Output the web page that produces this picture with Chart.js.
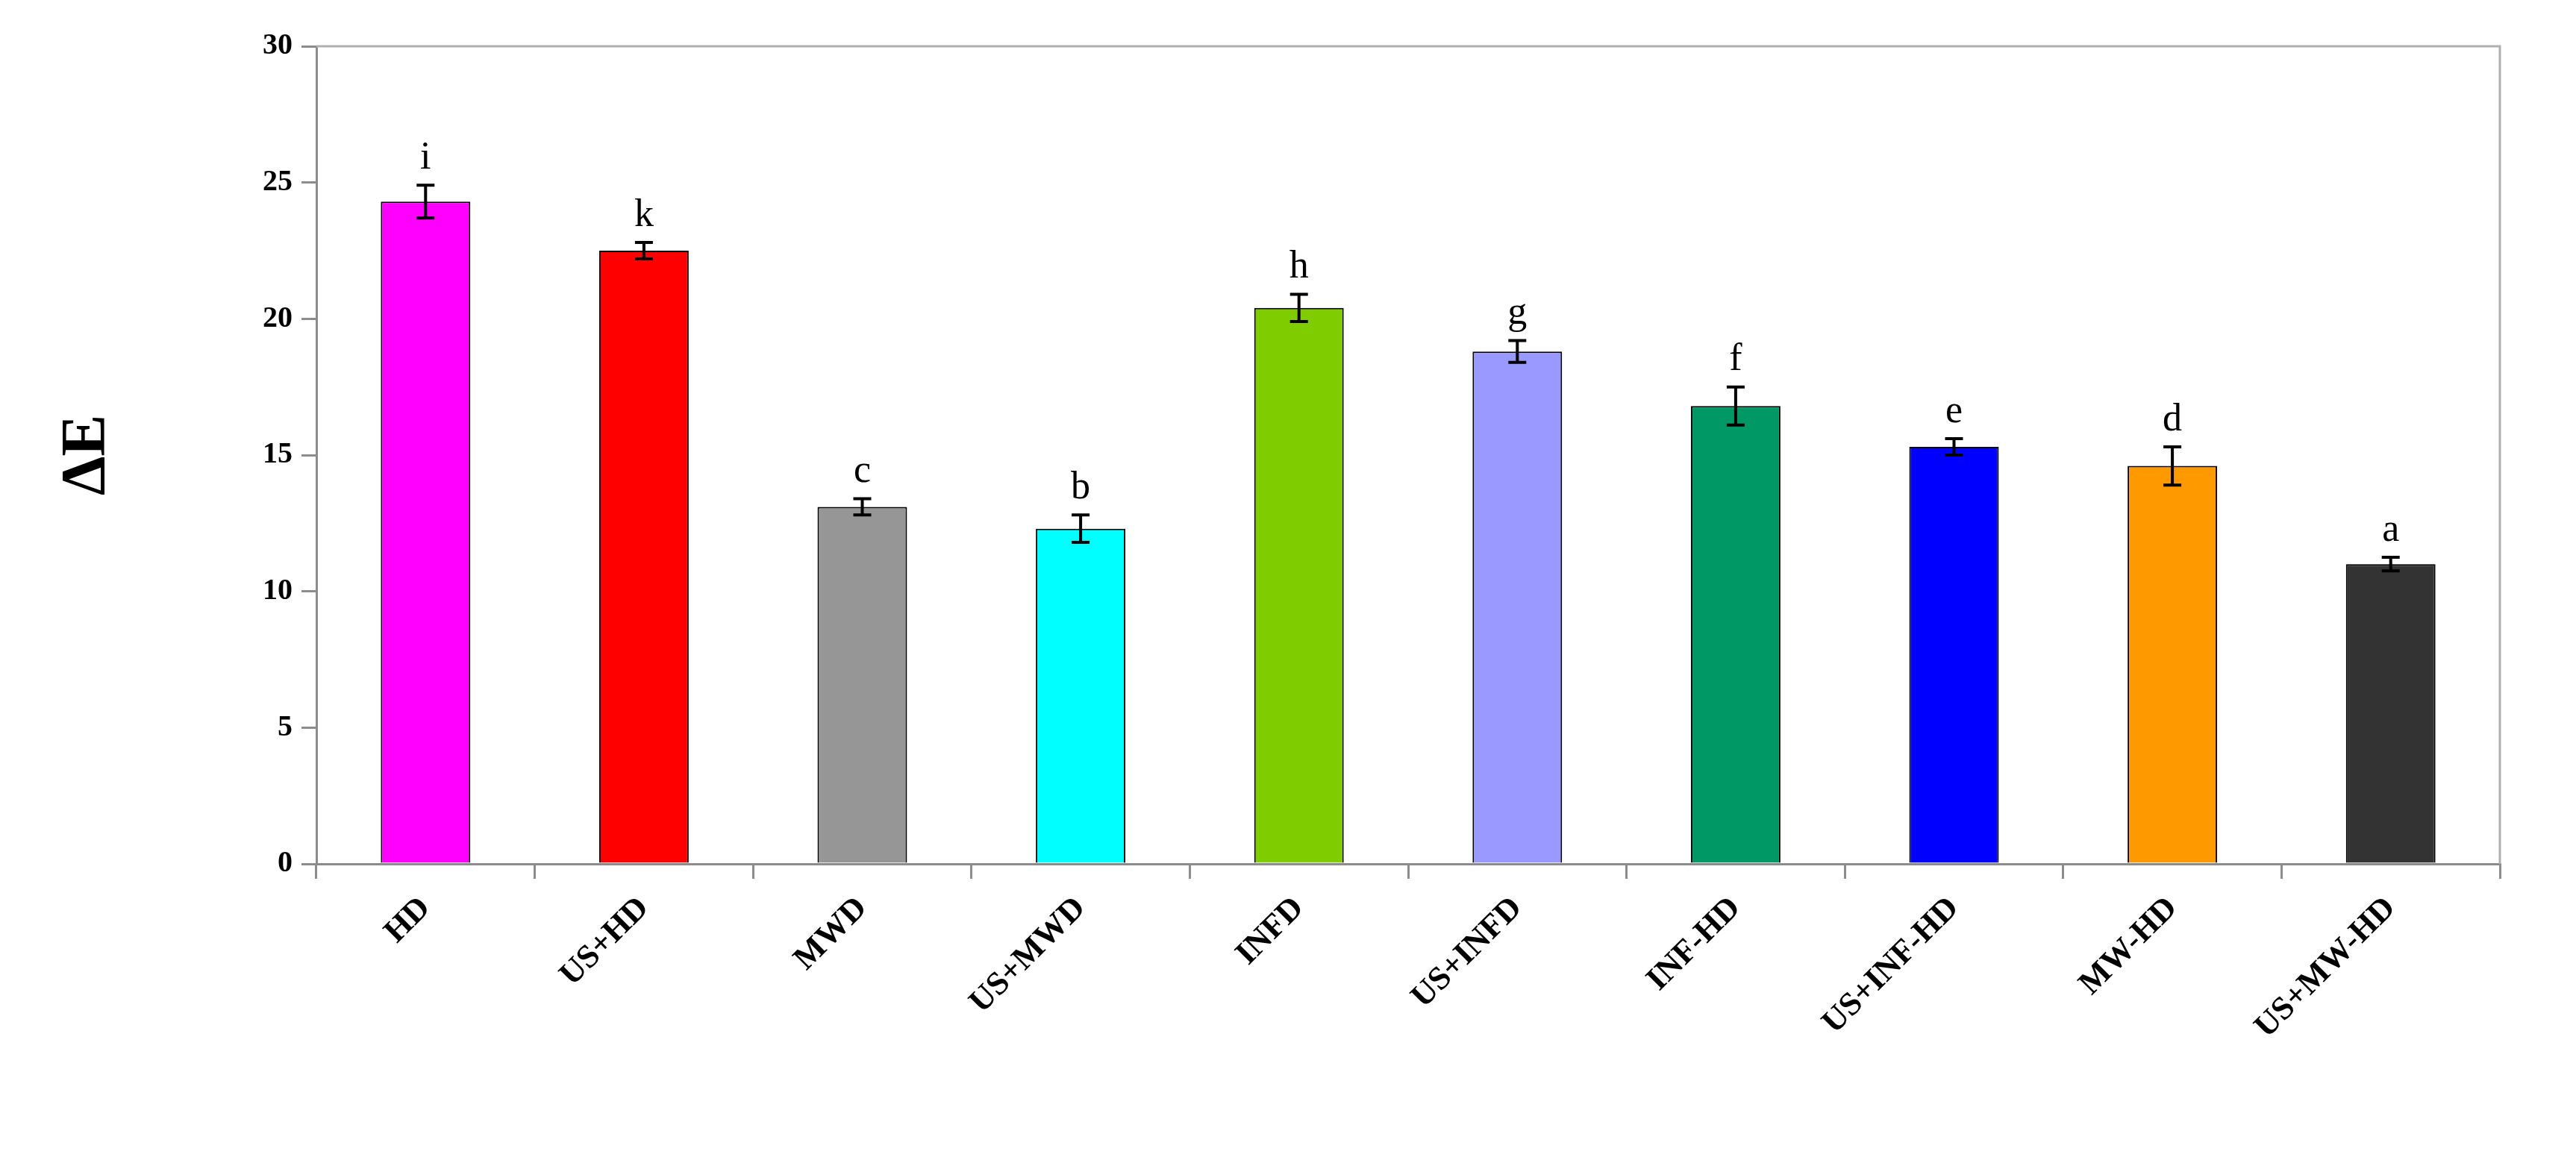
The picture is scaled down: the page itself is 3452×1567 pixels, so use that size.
<!DOCTYPE html>
<html>
<head>
<meta charset="utf-8">
<script src="https://cdn.jsdelivr.net/npm/chart.js@4"></script>
<style>
  html, body { margin: 0; padding: 0; background: #fff; }
  #wrap { width: 3452px; height: 1567px; }
</style>
</head>
<body>
<div id="wrap"><canvas id="barChart"></canvas></div>
<script>
// Data
const categories = ['HD', 'US+HD', 'MWD', 'US+MWD', 'INFD', 'US+INFD', 'INF-HD', 'US+INF-HD', 'MW-HD', 'US+MW-HD'];
const deltaE = [24.3, 22.5, 13.1, 12.3, 20.4, 18.8, 16.8, 15.3, 14.6, 11.0];
const errors = [0.6, 0.3, 0.3, 0.5, 0.5, 0.4, 0.7, 0.3, 0.7, 0.25];
const letters = ['i', 'k', 'c', 'b', 'h', 'g', 'f', 'e', 'd', 'a'];
const barColors = ['#ff00ff', '#ff0000', '#969696', '#00ffff', '#7fcc00', '#9999ff', '#009966', '#0000ff', '#ff9900', '#333333'];
const yTicks = [0, 5, 10, 15, 20, 25, 30];

const serif = '"Liberation Serif", "Times New Roman", serif';
const axisGrey = '#8c8c8c';

// error bars, significance letters, frame and axis title
const extras = {
    id: 'extras',
    afterDatasetsDraw(chart) {
        const c = chart.ctx;
        const x = chart.scales.x, y = chart.scales.y;
        const area = chart.chartArea;
        c.save();
        c.strokeStyle = '#b0b0b0';
        c.lineWidth = 3;
        c.beginPath();
        c.moveTo(area.left, area.top);
        c.lineTo(area.right, area.top);
        c.lineTo(area.right, area.bottom);
        c.stroke();

        c.strokeStyle = '#000';
        c.lineWidth = 4;
        c.fillStyle = '#000';
        c.font = '52px ' + serif;
        c.textAlign = 'center';
        c.textBaseline = 'bottom';
        deltaE.forEach((v, i) => {
            const px = x.getPixelForValue(i);
            const top = y.getPixelForValue(v + errors[i]);
            const bot = y.getPixelForValue(v - errors[i]);
            c.beginPath();
            c.moveTo(px, top); c.lineTo(px, bot);
            c.moveTo(px - 12, top); c.lineTo(px + 12, top);
            c.moveTo(px - 12, bot); c.lineTo(px + 12, bot);
            c.stroke();
            c.fillText(letters[i], px, top - 10);
        });

        c.translate(118, (area.top + area.bottom) / 2);
        c.rotate(-Math.PI / 2);
        c.font = 'bold 84px ' + serif;
        c.textBaseline = 'middle';
        c.fillText('ΔE', 0, 0);
        c.restore();
    }
};

new Chart(document.getElementById('barChart').getContext('2d'), {
    type: 'bar',
    data: {
        labels: categories,
        datasets: [{
            data: deltaE,
            backgroundColor: barColors,
            borderColor: '#000',
            borderWidth: 2,
            categoryPercentage: 0.41,
            barPercentage: 1.0
        }]
    },
    options: {
        responsive: true,
        maintainAspectRatio: false,
        animation: false,
        layout: { padding: { top: 62, right: 102, left: 0, bottom: 0 } },
        plugins: { legend: { display: false }, tooltip: { enabled: false } },
        scales: {
            x: {
                afterFit(s) { s.height = 409; },
                grid: { drawOnChartArea: false, offset: true, color: axisGrey, lineWidth: 3, tickLength: 20 },
                border: { color: axisGrey, width: 3 },
                ticks: {
                    color: '#000',
                    font: { family: serif, size: 44, weight: 'bold' },
                    minRotation: 45, maxRotation: 45, padding: 14
                }
            },
            y: {
                min: 0, max: 30,
                afterFit(s) { s.width = 424; },
                afterBuildTicks(s) { s.ticks = yTicks.map(v => ({ value: v })); },
                grid: { drawOnChartArea: false, color: axisGrey, lineWidth: 3, tickLength: 20 },
                border: { color: axisGrey, width: 3 },
                ticks: {
                    color: '#000',
                    font: { family: serif, size: 40, weight: 'bold' },
                    padding: 12
                }
            }
        }
    },
    plugins: [extras]
});
</script>
</body>
</html>
